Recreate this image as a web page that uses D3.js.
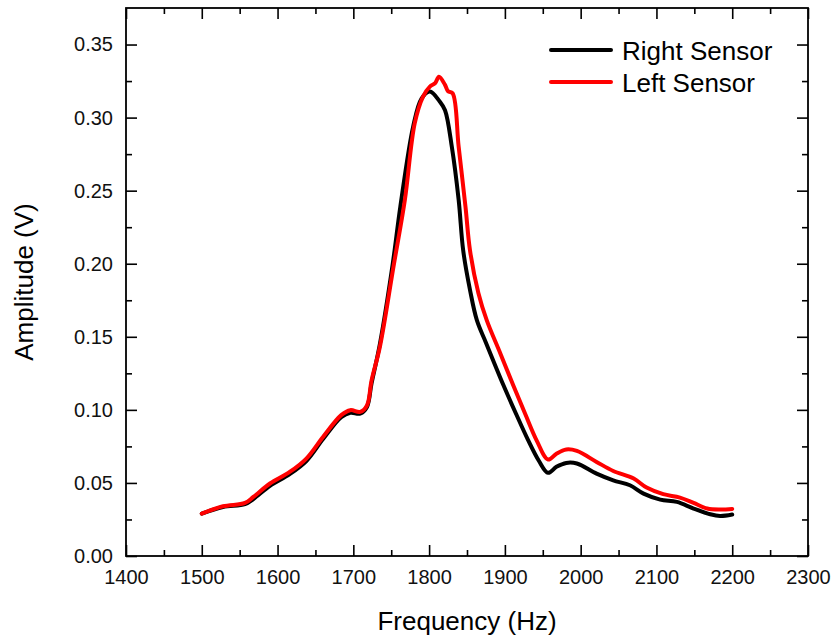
<!DOCTYPE html>
<html><head><meta charset="utf-8">
<script src="https://cdn.jsdelivr.net/npm/d3@7"></script>
<style>
body{margin:0;background:#fff;}
svg{display:block;font-family:"Liberation Sans",Arial,sans-serif;}
</style></head>
<body><svg id="c" width="835" height="636"></svg>
<script>
const seriesNames = ["Right Sensor", "Left Sensor"];
const seriesColors = ["#000000", "#ff0000"];
const rightFreq = [1500,1528,1557,1568,1590,1616,1638,1660,1684,1696,1709,1718,1724,1735,1752,1762,1779,1790,1801,1814,1821,1830,1839,1845,1854,1863,1875,1898,1915,1930,1945,1957,1968,1981,1995,2021,2043,2065,2083,2105,2127,2149,2171,2184,2200];
const rightAmp = [0.029,0.0335,0.0355,0.039,0.048,0.056,0.065,0.080,0.095,0.098,0.0975,0.102,0.118,0.145,0.200,0.239,0.294,0.313,0.3178,0.311,0.305,0.280,0.2436,0.209,0.182,0.1614,0.146,0.117,0.097,0.080,0.065,0.0569,0.061,0.0637,0.0633,0.0564,0.0518,0.0484,0.0427,0.0386,0.037,0.0325,0.0286,0.0274,0.0284];
const leftFreq = [1500,1528,1557,1568,1590,1616,1638,1660,1684,1696,1709,1718,1724,1735,1753,1768,1781,1792,1801,1808,1813,1821,1825,1831,1839,1848,1854,1865,1876,1894,1911,1927,1942,1957,1968,1981,1995,2021,2043,2070,2087,2109,2131,2149,2167,2184,2200];
const leftAmp = [0.029,0.034,0.0363,0.0404,0.0496,0.0575,0.0667,0.0815,0.0964,0.0998,0.0986,0.103,0.120,0.143,0.198,0.2436,0.296,0.3144,0.3212,0.3236,0.328,0.3224,0.318,0.3167,0.280,0.239,0.209,0.180,0.1614,0.1386,0.1168,0.097,0.079,0.066,0.070,0.0729,0.0719,0.0644,0.0582,0.053,0.0468,0.0423,0.040,0.0363,0.0325,0.0318,0.0322];
const xTicks = [1400,1500,1600,1700,1800,1900,2000,2100,2200,2300];
const xMinor = [1450,1550,1650,1750,1850,1950,2050,2150,2250];
const yTicks = [0,0.05,0.10,0.15,0.20,0.25,0.30,0.35];
const yMinor = [0.025,0.075,0.125,0.175,0.225,0.275,0.325];
const xTitle = "Frequency (Hz)";
const yTitle = "Amplitude (V)";

const W = 835, H = 636;
const m = {left:126, top:8, right:27, bottom:80};
const iw = W - m.left - m.right, ih = H - m.top - m.bottom;
const svg = d3.select("#c");
const g = svg.append("g").attr("transform", `translate(${m.left},${m.top})`);
const x = d3.scaleLinear().domain([1400,2300]).range([0, iw]);
const y = d3.scaleLinear().domain([0,0.375]).range([ih, 0]);

function styleAxis(sel){
  sel.select(".domain").remove();
  sel.selectAll("line").attr("stroke","#000").attr("stroke-width",1.6);
  sel.selectAll("text").attr("font-size",20).attr("fill","#111").attr("font-family","'Liberation Sans',Arial,sans-serif");
}
g.append("g").attr("transform",`translate(0,${ih})`)
  .call(d3.axisBottom(x).tickValues(xTicks).tickSize(-11).tickPadding(14).tickFormat(d3.format("d"))).call(styleAxis);
g.append("g").attr("transform",`translate(0,${ih})`)
  .call(d3.axisBottom(x).tickValues(xMinor).tickSize(-6).tickFormat("")).call(styleAxis);
g.append("g").call(d3.axisTop(x).tickValues(xTicks).tickSize(-11).tickFormat("")).call(styleAxis);
g.append("g").call(d3.axisTop(x).tickValues(xMinor).tickSize(-6).tickFormat("")).call(styleAxis);
g.append("g").call(d3.axisLeft(y).tickValues(yTicks).tickSize(-11).tickPadding(13).tickFormat(d3.format(".2f"))).call(styleAxis);
g.append("g").call(d3.axisLeft(y).tickValues(yMinor).tickSize(-6).tickFormat("")).call(styleAxis);
g.append("g").attr("transform",`translate(${iw},0)`).call(d3.axisRight(y).tickValues(yTicks).tickSize(-11).tickFormat("")).call(styleAxis);
g.append("g").attr("transform",`translate(${iw},0)`).call(d3.axisRight(y).tickValues(yMinor).tickSize(-6).tickFormat("")).call(styleAxis);

g.append("rect").attr("x",0).attr("y",0).attr("width",iw).attr("height",ih)
  .attr("fill","none").attr("stroke","#000").attr("stroke-width",1.8);

const line = d3.line().x(d=>x(d[0])).y(d=>y(d[1])).curve(d3.curveCatmullRom.alpha(0.5));
const series = [
  d3.zip(rightFreq, rightAmp),
  d3.zip(leftFreq, leftAmp)
];
series.forEach((s,i)=>{
  g.append("path").datum(s).attr("d",line).attr("fill","none")
    .attr("stroke",seriesColors[i]).attr("stroke-width",4)
    .attr("stroke-linejoin","round").attr("stroke-linecap","round");
});

const lg = svg.append("g");
seriesNames.forEach((n,i)=>{
  const ly = 50 + i*32;
  lg.append("line").attr("x1",551).attr("x2",611).attr("y1",ly).attr("y2",ly)
    .attr("stroke",seriesColors[i]).attr("stroke-width",4).attr("stroke-linecap","round");
  lg.append("text").attr("x",622).attr("y",ly+10).attr("font-size",26).attr("fill","#000").text(n);
});

svg.append("text").attr("x", m.left + iw/2).attr("y",630).attr("text-anchor","middle")
  .attr("font-size",26).attr("fill","#000").text(xTitle);
svg.append("text").attr("transform",`translate(33,${m.top+ih/2}) rotate(-90)`).attr("text-anchor","middle")
  .attr("font-size",26).attr("fill","#000").text(yTitle);
</script></body></html>
